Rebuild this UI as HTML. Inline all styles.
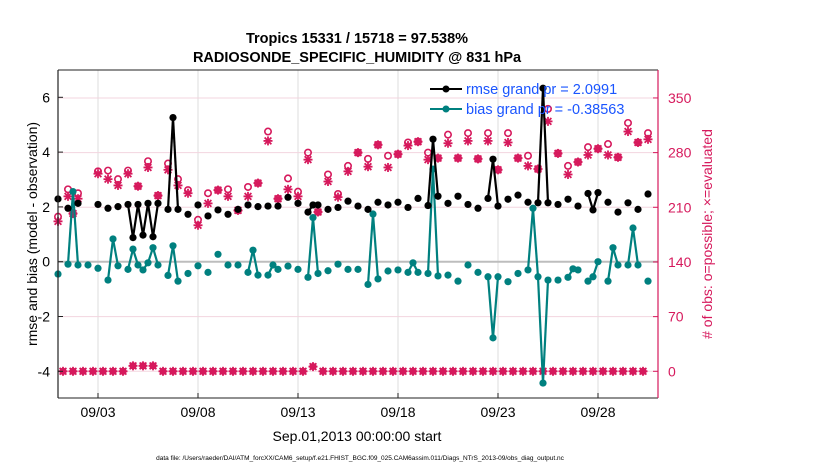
<!DOCTYPE html>
<html><head><meta charset="utf-8"><style>
body{margin:0;background:#fff;}
svg{display:block;font-family:"Liberation Sans",Arial,sans-serif;}
</style></head><body>
<svg id="chart" width="830" height="470" viewBox="0 0 830 470" xmlns="http://www.w3.org/2000/svg">
<rect width="830" height="470" fill="#fff"/>
<text x="357" y="43" text-anchor="middle" font-size="14.5" font-weight="bold">Tropics 15331 / 15718 = 97.538%</text>
<text x="357" y="62" text-anchor="middle" font-size="14.5" font-weight="bold">RADIOSONDE_SPECIFIC_HUMIDITY @ 831 hPa</text>
<g id="grid"></g>
<g id="marks"></g>
<g id="axes"></g>
<text transform="translate(37,234) rotate(-90)" text-anchor="middle" font-size="14">rmse and bias (model - observation)</text>
<text transform="translate(712,234) rotate(-90)" text-anchor="middle" font-size="14" fill="#d6195c"># of obs: o=possible; ×=evaluated</text>
<text x="357" y="441" text-anchor="middle" font-size="14">Sep.01,2013 00:00:00 start</text>
<text x="360" y="460" text-anchor="middle" font-size="6.5">data file: /Users/raeder/DAI/ATM_forcXX/CAM6_setup/f.e21.FHIST_BGC.f09_025.CAM6assim.011/Diags_NTrS_2013-09/obs_diag_output.nc</text>
<g>
<line x1="430" y1="89" x2="462" y2="89" stroke="#000" stroke-width="2"/><circle cx="446" cy="89" r="3.5" fill="#000"/>
<text x="466" y="94" font-size="14.5" fill="#1a55ff">rmse grand pr = 2.0991</text>
<line x1="430" y1="109" x2="462" y2="109" stroke="#00807f" stroke-width="2"/><circle cx="446" cy="109" r="3.5" fill="#00807f"/>
<text x="466" y="114" font-size="14.5" fill="#1a55ff">bias grand pr = -0.38563</text>
</g>
</svg>
<script>
// 6-hour index (k) and values
const rmseK=[0,2,4,8,10,12,14,15,16,17,18,19,20,22,23,24,26,28,30,32,34,36,38,40,42,44,46,48,50,51,52,54,56,58,60,62,64,66,68,70,72,74,75,76,78,80,82,84,86,87,88,90,92,94,96,97,98,100,102,104,106,107,108,110,112,114,116,118];
const rmseV=[2.29,1.95,2.13,2.09,1.95,2.01,2.09,0.88,2.09,0.97,2.13,0.91,2.13,1.91,5.26,1.91,1.73,2.07,1.67,1.89,1.73,1.91,2.07,2.01,2.03,2.03,2.35,2.13,1.81,2.07,2.07,1.91,1.98,2.21,2.03,1.91,2.17,2.07,2.17,1.98,2.31,2.05,4.47,2.39,2.13,2.39,2.09,1.95,2.31,3.74,2.03,2.28,2.43,2.17,2.15,6.33,2.15,2.09,2.28,2.03,2.49,1.89,2.52,2.17,1.81,2.15,1.91,2.47];
const biasK=[0,2,3,4,6,8,10,11,12,14,15,16,17,18,19,20,22,23,24,26,28,30,32,34,36,38,39,40,42,43,44,46,48,50,51,52,54,56,58,60,62,63,64,66,68,70,71,72,74,75,76,78,80,82,84,86,87,88,90,92,94,95,96,97,98,100,102,103,104,106,107,108,110,111,112,114,115,116,118];
const biasV=[-0.45,-0.09,2.56,-0.12,-0.12,-0.24,-0.67,0.83,-0.15,-0.28,0.46,-0.12,-0.3,-0.04,0.51,-0.12,-0.5,0.58,-0.71,-0.43,-0.15,-0.39,0.27,-0.12,-0.12,-0.39,0.42,-0.49,-0.49,-0.12,-0.28,-0.16,-0.28,-0.57,1.61,-0.43,-0.33,-0.09,-0.28,-0.28,-0.83,1.74,-0.63,-0.34,-0.3,-0.39,-0.04,-0.39,-0.43,3.38,-0.52,-0.49,-0.71,-0.12,-0.39,-0.55,-2.78,-0.55,-0.73,-0.43,-0.3,1.95,-0.55,-4.43,-0.67,-0.67,-0.57,-0.26,-0.3,-0.71,-0.55,0.0,-0.71,0.51,-0.12,-0.12,1.23,-0.12,-0.71];
const obsK=[0,2,3,4,8,10,12,14,16,18,20,22,24,26,28,30,32,34,36,38,40,42,44,46,48,50,52,54,56,58,60,62,64,66,68,70,72,74,76,78,80,82,84,86,88,90,92,94,96,98,100,102,104,106,108,110,112,114,116,118];
const evalV=[192,224,202,221,253,246,238,253,237,261,225,258,238,228,187,215,232,224,206,224,241,295,221,233,224,271,204,243,223,256,280,262,290,261,278,289,294,271,273,292,273,295,272,295,258,293,273,263,259,320,279,252,268,277,285,277,274,307,293,297];
const possV=[198,233,202,228,256,257,246,257,237,269,225,266,246,232,194,228,232,233,206,236,241,307,221,247,230,280,204,252,227,263,280,272,290,276,278,293,294,280,273,303,273,305,272,305,258,305,273,276,259,336,279,263,268,287,285,291,274,318,293,305];
const lowK=[1,3,5,7,9,11,13,15,17,19,21,23,25,27,29,31,33,35,37,39,41,43,45,47,49,51,53,55,57,59,61,63,65,67,69,71,73,75,77,79,81,83,85,87,89,91,93,95,97,99,101,103,105,107,109,111,113,115,117];
const lowV=[0,0,0,0,0,0,0,7,7,7,0,0,0,0,0,0,0,0,0,0,0,0,0,0,0,6,0,0,0,0,0,0,0,0,0,0,0,0,0,0,0,0,0,0,0,0,0,0,0,0,0,0,0,0,0,0,0,0,0];
const xTickLabels=["09/03","09/08","09/13","09/18","09/23","09/28"];
const xTickDays=[2,7,12,17,22,27];
const leftTicks=[-4,-2,0,2,4,6];
const rightTicks=[0,70,140,210,280,350];

const NS="http://www.w3.org/2000/svg";
const X0=58,X1=658,Y0=70,Y1=398;
const xK=k=>X0+5*k, xD=d=>X0+20*d;
const yL=v=>261.7-27.4*v, yR=c=>371.3-0.781*c;
const PINK="#d6195c",TEAL="#00807f";
function mk(p,tag,a){const e=document.createElementNS(NS,tag);for(const n in a)e.setAttribute(n,a[n]);p.appendChild(e);return e;}
const grid=document.getElementById('grid'),marks=document.getElementById('marks'),axes=document.getElementById('axes');
xTickDays.forEach(d=>{const l=mk(grid,'line',{x1:xD(d),x2:xD(d),y1:Y0,y2:Y1,stroke:'#dcdcdc','stroke-width':1});

});
rightTicks.forEach(c=>{if(c===140)return;const l=mk(grid,'line',{x1:X0,x2:X1,y1:yR(c),y2:yR(c),stroke:'#f3d5df','stroke-width':1});

});
const z=mk(grid,'line',{x1:X0,x2:X1,y1:yL(0),y2:yL(0),stroke:'#bdbdbd','stroke-width':2});



function star(g,cx,cy){const s=4.5;
[[0,-s,0,s],[-s,0,s,0],[-s*.75,-s*.75,s*.75,s*.75],[-s*.75,s*.75,s*.75,-s*.75]].forEach(q=>mk(g,'line',{x1:cx+q[0],y1:cy+q[1],x2:cx+q[2],y2:cy+q[3],stroke:PINK,'stroke-width':1.8}));}
// obs counts
obsK.forEach((k,i)=>{
 const c=mk(marks,'circle',{cx:xK(k),cy:yR(possV[i]),r:3.2,fill:'none',stroke:PINK,'stroke-width':1.6});
 
 
 const g=mk(marks,'g',{});
 
 
 star(g,xK(k),yR(evalV[i]));
});
lowK.forEach((k,i)=>{
 const c=mk(marks,'circle',{cx:xK(k),cy:yR(lowV[i]),r:3.6,fill:PINK});
 
 
 const g=mk(marks,'g',{});
 
 
 star(g,xK(k),yR(lowV[i]));
});
function series(K,V,col,name){
 for(let i=1;i<K.length;i++){if(K[i]-K[i-1]===1){const l=mk(marks,'line',{x1:xK(K[i-1]),y1:yL(V[i-1]),x2:xK(K[i]),y2:yL(V[i]),stroke:col,'stroke-width':2.2});
  
  }}
 K.forEach((k,i)=>{const c=mk(marks,'circle',{cx:xK(k),cy:yL(V[i]),r:3.6,fill:col});
  
  });
}
series(biasK,biasV,TEAL,'bias');
series(rmseK,rmseV,'#000','rmse');
// axes
mk(axes,'line',{x1:X0,x2:X1,y1:Y0,y2:Y0,stroke:'#222','stroke-width':1});
mk(axes,'line',{x1:X0,x2:X1,y1:Y1,y2:Y1,stroke:'#222','stroke-width':1});
mk(axes,'line',{x1:X0,x2:X0,y1:Y0,y2:Y1,stroke:'#222','stroke-width':1.2});
mk(axes,'line',{x1:X1,x2:X1,y1:Y0,y2:Y1,stroke:PINK,'stroke-width':1.2});
xTickDays.forEach((d,i)=>{mk(axes,'line',{x1:xD(d),x2:xD(d),y1:Y1,y2:Y1-5,stroke:'#222'});
 const t=mk(axes,'text',{x:xD(d),y:417,'text-anchor':'middle','font-size':14});t.textContent=xTickLabels[i];
 
 });
leftTicks.forEach(v=>{mk(axes,'line',{x1:X0,x2:X0+5,y1:yL(v),y2:yL(v),stroke:'#222'});
 const t=mk(axes,'text',{x:50,y:yL(v)+5,'text-anchor':'end','font-size':14});t.textContent=v<0?'-'+Math.abs(v):v;
 
 });
rightTicks.forEach(c=>{mk(axes,'line',{x1:X1,x2:X1-5,y1:yR(c),y2:yR(c),stroke:PINK});
 const t=mk(axes,'text',{x:668,y:yR(c)+5,'font-size':14,fill:PINK});t.textContent=c;
 
 });
</script>
</body></html>
